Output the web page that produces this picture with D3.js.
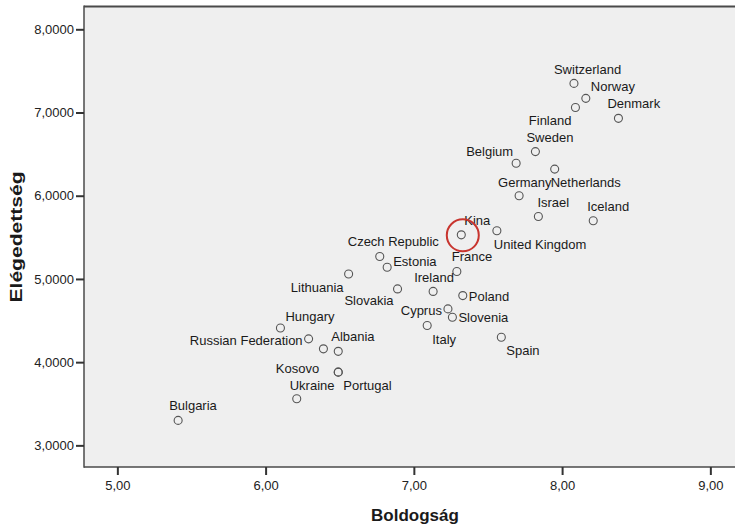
<!DOCTYPE html>
<html>
<head>
<meta charset="utf-8">
<script src="https://cdn.jsdelivr.net/npm/d3@7/dist/d3.min.js"></script>
<style>
  html, body { margin: 0; padding: 0; background: #ffffff; }
  svg { display: block; font-family: "Liberation Sans", Arial, sans-serif; }
</style>
</head>
<body>
<svg id="chart" width="735" height="527"></svg>
<script>
// ---- Data ----
const countries = ["Switzerland","Norway","Finland","Denmark","Sweden","Belgium","Netherlands","Germany","Israel","Iceland","Kina","United Kingdom","Czech Republic","Estonia","France","Lithuania","Slovakia","Ireland","Poland","Cyprus","Slovenia","Italy","Spain","Hungary","Russian Federation","Albania","","Kosovo","Portugal","Ukraine","Bulgaria"];
const boldogsag = [8.08,8.16,8.09,8.38,7.82,7.69,7.95,7.71,7.84,8.21,7.32,7.56,6.77,6.82,7.29,6.56,6.89,7.13,7.33,7.23,7.26,7.09,7.59,6.10,6.29,6.49,6.39,6.49,6.49,6.21,5.41];
const elegedettseg = [7.35,7.17,7.06,6.93,6.53,6.39,6.32,6.00,5.75,5.70,5.53,5.58,5.27,5.14,5.09,5.06,4.88,4.85,4.80,4.64,4.54,4.44,4.30,4.41,4.28,4.13,4.16,3.88,3.88,3.56,3.30];
const xTicks = [5,6,7,8,9];
const yTicks = [3,4,5,6,7,8];
const highlighted = "Kina";
const xTitle = "Boldogság";
const yTitle = "Elégedettség";

// ---- Layout (label placement relative to the point) ----
const labelPlacement = {
  "Switzerland": ["start",-20,-9], "Norway": ["start",5,-7], "Finland": ["end",-4,17],
  "Denmark": ["start",-11,-10], "Sweden": ["start",-9,-10], "Belgium": ["end",-3,-7],
  "Netherlands": ["start",-4,18], "Germany": ["start",-21,-9], "Israel": ["start",-1,-10],
  "Iceland": ["start",-6,-10], "Kina": ["start",3,-10], "United Kingdom": ["start",-3,18],
  "Czech Republic": ["start",-32,-10], "Estonia": ["start",6,-1], "France": ["start",-5,-10],
  "Lithuania": ["end",-5,18], "Slovakia": ["end",-4,16], "Ireland": ["start",-19,-9],
  "Poland": ["start",6,5], "Cyprus": ["end",-6,6], "Slovenia": ["start",6,5],
  "Italy": ["start",5,18], "Spain": ["start",5,18], "Hungary": ["start",5,-7],
  "Russian Federation": ["end",-6,6], "Albania": ["start",-7,-10], "Kosovo": ["end",-19,1],
  "Portugal": ["start",5,18], "Ukraine": ["start",-7,-9], "Bulgaria": ["start",-9,-10]
};

const data = countries.map((c,i)=>({name:c, x:boldogsag[i], y:elegedettseg[i]}));

const svg = d3.select("#chart");
const pLeft = 84, pRight = 740, pTop = 6, pBottom = 467;
const x = d3.scaleLinear().domain([4.775, 9.2]).range([pLeft, pRight]);
const y = d3.scaleLinear().domain([2.74, 8.28]).range([pBottom, pTop]);

// plot background
svg.append("rect").attr("x",pLeft).attr("y",pTop).attr("width",pRight-pLeft).attr("height",pBottom-pTop)
  .attr("fill","#efefef");

// frame lines
svg.append("line").attr("x1",pLeft).attr("x2",pRight).attr("y1",pTop+0.5).attr("y2",pTop+0.5)
  .attr("stroke","#4a4a4a").attr("stroke-width",2);
svg.append("line").attr("x1",pLeft).attr("x2",pRight).attr("y1",pBottom).attr("y2",pBottom)
  .attr("stroke","#4a4a4a").attr("stroke-width",1.5);
svg.append("line").attr("x1",pLeft).attr("x2",pLeft).attr("y1",pTop-0.5).attr("y2",pBottom+0.75)
  .attr("stroke","#4a4a4a").attr("stroke-width",1.5);

// axes
const fmtX = d => d3.format(".2f")(d).replace(".", ",");
const fmtY = d => d3.format(".4f")(d).replace(".", ",");

const xAxis = svg.append("g").attr("transform",`translate(0,${pBottom})`)
  .call(d3.axisBottom(x).tickValues(xTicks).tickFormat(fmtX).tickSize(8).tickPadding(6));
const yAxis = svg.append("g").attr("transform",`translate(${pLeft},0)`)
  .call(d3.axisLeft(y).tickValues(yTicks).tickFormat(fmtY).tickSize(8).tickPadding(2));
[xAxis, yAxis].forEach(g => {
  g.select(".domain").remove();
  g.selectAll(".tick line").attr("stroke","#333").attr("stroke-width",2);
  g.selectAll(".tick text").attr("fill","#222").style("font-size","13px")
    .style("font-family","'Liberation Sans', Arial, sans-serif");
});

// points
svg.append("g").selectAll("circle").data(data).join("circle")
  .attr("cx",d=>x(d.x)).attr("cy",d=>y(d.y)).attr("r",4)
  .attr("fill","none").attr("stroke","#555").attr("stroke-width",1.1);

// labels
svg.append("g").selectAll("text").data(data.filter(d=>d.name && labelPlacement[d.name])).join("text")
  .attr("x",d=>x(d.x)+labelPlacement[d.name][1])
  .attr("y",d=>y(d.y)+labelPlacement[d.name][2])
  .attr("text-anchor",d=>labelPlacement[d.name][0])
  .attr("fill","#1a1a1a").style("font-size","13px")
  .text(d=>d.name);

// highlight circle
const hp = data.find(d=>d.name===highlighted);
svg.append("circle").attr("cx",x(hp.x)+1.5).attr("cy",y(hp.y)+0.5).attr("r",16)
  .attr("fill","none").attr("stroke","#c8352f").attr("stroke-width",2);

// axis titles
svg.append("text").attr("x",415).attr("y",521).attr("text-anchor","middle")
  .style("font-size","17px").style("font-weight","bold").attr("fill","#1a1a1a").text(xTitle);
svg.append("text").attr("transform","translate(22,237) rotate(-90)").attr("text-anchor","middle")
  .attr("textLength",131).attr("lengthAdjust","spacingAndGlyphs")
  .style("font-size","17px").style("font-weight","bold").attr("fill","#1a1a1a").text(yTitle);
</script>
</body>
</html>
